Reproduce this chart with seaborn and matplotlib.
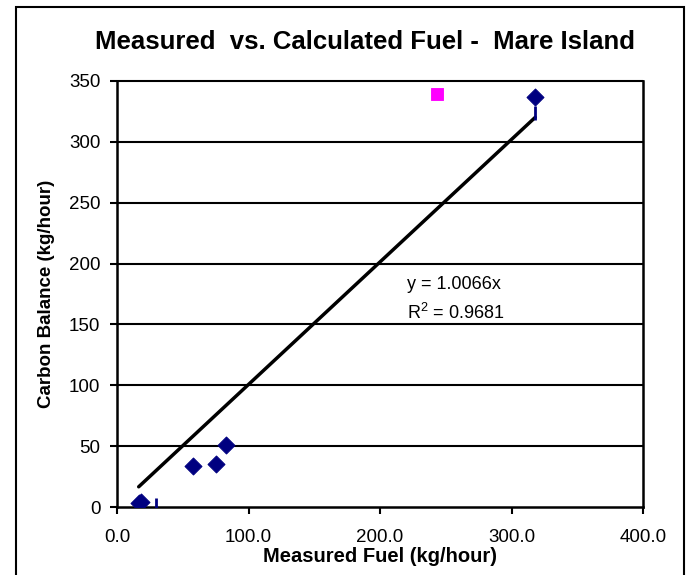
import numpy as np
import pandas as pd
import matplotlib
matplotlib.use("Agg")
import matplotlib.pyplot as plt
from matplotlib.patches import Rectangle
import seaborn as sns

# === datos ===
measured = [16.5, 18.5, 57.5, 75.0, 83.0, 318.0]
carbon = [3.0, 4.5, 33.5, 35.5, 51.0, 337.0]
outlier_x = [243.0]
outlier_y = [339.0]
dash_x = [29.5, 317.5]
dash_y = [1.5, 324.0]
slope = 1.0066
r2 = 0.9681
x_ticks = [0, 100, 200, 300, 400]
y_ticks = [0, 50, 100, 150, 200, 250, 300, 350]

sns.set_style("white")
plt.rcParams["font.family"] = ["Liberation Sans", "DejaVu Sans"]
plt.rcParams["mathtext.fontset"] = "custom"
plt.rcParams["mathtext.rm"] = "Liberation Sans"
plt.rcParams["text.color"] = "black"
plt.rcParams["axes.labelcolor"] = "black"
plt.rcParams["xtick.color"] = "black"
plt.rcParams["ytick.color"] = "black"

df = pd.DataFrame({"x": measured, "y": carbon})

fig = plt.figure(figsize=(6.89, 5.75), dpi=100)
ax = fig.add_axes([117 / 689, 1 - 507 / 575, (643 - 117) / 689, (507 - 81) / 575])

for yv in y_ticks[1:]:
    ax.axhline(yv, color="black", lw=1.5, zorder=1, clip_on=False)

# linea de tendencia
xs = np.array([min(measured), max(measured)])
sns.lineplot(x=xs, y=slope * xs, color="black", lw=2.5, ax=ax, zorder=2)

sns.scatterplot(data=df, x="x", y="y", marker="D", color="#000080", s=75,
                edgecolor="#000080", ax=ax, zorder=3)
sns.scatterplot(x=outlier_x, y=outlier_y, marker="s", color="#FF00FF", s=64,
                edgecolor="#FF00FF", ax=ax, zorder=3)
sns.scatterplot(x=dash_x, y=dash_y, marker="|", color="#000080", s=100,
                linewidth=2, ax=ax, zorder=3)

ax.set_xlim(0, 400)
ax.set_ylim(0, 350)
ax.set_xticks(x_ticks)
ax.set_xticklabels([f"{v:.1f}" for v in x_ticks])
ax.set_yticks(y_ticks)
ax.tick_params(axis="both", direction="out", length=5, width=1.5,
               labelsize=13.5, bottom=True, left=True)
ax.tick_params(axis="x", pad=11)
ax.tick_params(axis="y", pad=7)
for side in ["left", "bottom", "right"]:
    ax.spines[side].set_linewidth(1.8)
    ax.spines[side].set_color("black")
ax.spines["top"].set_visible(False)

ax.set_xlabel("Measured Fuel (kg/hour)", fontsize=14.5, fontweight="bold")
ax.set_ylabel("Carbon Balance (kg/hour)", fontsize=13.5, fontweight="bold")
ax.xaxis.set_label_coords(0.5, -0.093)
ax.yaxis.set_label_coords(-0.118, 0.5)

fig.text(365 / 689, 1 - 42 / 575, "Measured  vs. Calculated Fuel -  Mare Island",
         fontsize=18.5, fontweight="bold", ha="center", va="center")

ax.text(220.5, 182.5, "y = 1.0066x", fontsize=13, ha="left", va="center")
ax.text(220.5, 159.5, "R$^2$ = 0.9681", fontsize=13, ha="left", va="center")

fig.patches.append(Rectangle((16 / 689, -0.01), (684 - 16) / 689, 1 - 7 / 575 + 0.01,
                             transform=fig.transFigure, fill=False,
                             edgecolor="black", lw=1.5))

fig.savefig("out.png", dpi=100)
